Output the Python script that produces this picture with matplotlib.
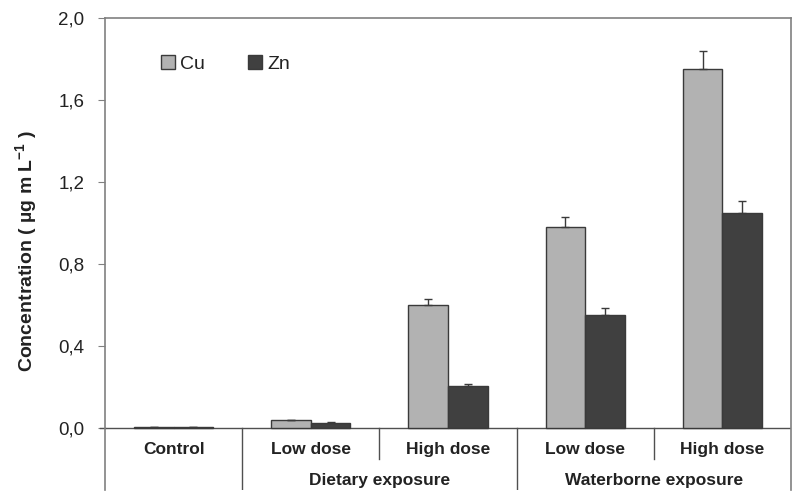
import numpy as np
import matplotlib
matplotlib.use("Agg")
import matplotlib.pyplot as plt

plt.rcParams['font.family'] = ['Liberation Sans', 'DejaVu Sans']

categories = ["Control", "Low dose", "High dose", "Low dose", "High dose"]
groups = ["Dietary exposure", "Waterborne exposure"]
cu = [0.005, 0.04, 0.60, 0.98, 1.75]
zn = [0.005, 0.025, 0.205, 0.553, 1.05]
cu_err = [0.0, 0.0, 0.03, 0.049, 0.09]
zn_err = [0.0, 0.004, 0.01, 0.03, 0.055]
yticks = [0.0, 0.4, 0.8, 1.2, 1.6, 2.0]

edge = "#3a3a3a"
fig = plt.figure(figsize=(8, 4.98), dpi=100)
ax = fig.add_axes([105 / 800, 8 / 498, 686 / 800, 472 / 498])

x = np.arange(len(categories))
w = 0.289
ax.bar(x - w / 2, cu, w, color="#b2b2b2", edgecolor=edge, linewidth=1, label="Cu", zorder=2)
ax.bar(x + w / 2, zn, w, color="#404040", edgecolor=edge, linewidth=1, label="Zn", zorder=2)
ax.errorbar(x - w / 2, cu, yerr=[np.zeros(len(cu)), cu_err], fmt="none",
            ecolor=edge, elinewidth=1, capsize=3, capthick=1, zorder=3)
ax.errorbar(x + w / 2, zn, yerr=[np.zeros(len(zn)), zn_err], fmt="none",
            ecolor=edge, elinewidth=1, capsize=3, capthick=1, zorder=3)

ymin = -62 / 205
ax.set_xlim(-0.5, 4.5)
ax.set_ylim(ymin, 2.0)
ax.set_yticks(yticks)
ax.set_yticklabels([f"{t:.1f}".replace(".", ",") for t in yticks], fontsize=13.5,
                   color="#222222")
ax.set_xticks([])
ax.spines["bottom"].set_visible(False)
for s in ["left", "right", "top"]:
    ax.spines[s].set_color("#808080")
    ax.spines[s].set_linewidth(1.2)
ax.tick_params(axis="y", direction="out", length=5, color="#808080", pad=10)
ax.axhline(0, color="#505050", linewidth=1, zorder=1)
ax.plot([-0.538, -0.5], [0, 0], color="#505050", linewidth=1, clip_on=False)

# separators under the axis
for xs, y1 in [(0.5, ymin), (1.5, -31 / 205), (2.5, ymin), (3.5, -31 / 205)]:
    ax.plot([xs, xs], [0, y1], color="#505050", linewidth=1)

lab_y = -21 / 205
for i, c in enumerate(categories):
    ax.text(i, lab_y, c, ha="center", va="center", fontsize=12.5, fontweight="bold",
            color="#222222")
grp_y = -52 / 205
ax.text(1.5, grp_y, groups[0], ha="center", va="center", fontsize=12.5, fontweight="bold",
        color="#222222")
ax.text(3.5, grp_y, groups[1], ha="center", va="center", fontsize=12.5, fontweight="bold",
        color="#222222")

ax.set_ylabel("Concentration ( µg m L$^{\\mathregular{-1}}$ )", fontsize=14,
              fontweight="bold", color="#222222")
ax.yaxis.set_label_coords(-105 / 686 + 40 / 686, (490 - 251) / 472)

leg = ax.legend(loc="upper left", bbox_to_anchor=(0.056, 0.958), ncol=2, frameon=False,
                fontsize=14, handlelength=0.7, handleheight=0.7, handletextpad=0.3,
                columnspacing=2.2)
for t in leg.get_texts():
    t.set_color("#222222")

fig.savefig("out.png", dpi=100)
